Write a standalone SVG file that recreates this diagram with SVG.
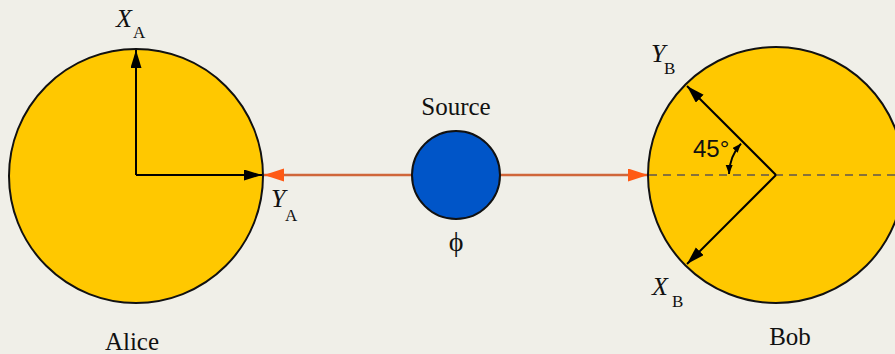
<svg xmlns="http://www.w3.org/2000/svg" width="895" height="354" viewBox="0 0 895 354">
<style>
.serif{font-family:"Liberation Serif","Times New Roman",serif;fill:#111}
.lbl{font-size:25px}
.it{font-style:italic;font-size:26px}
.sub{font-size:17px}
.disc{fill:#ffc800;stroke:#111;stroke-width:2}
.axis{stroke:#000;stroke-width:2;fill:none}
.beam{stroke:#d0663a;stroke-width:2.5;fill:none}
</style>
<defs>
<marker id="ah" markerUnits="userSpaceOnUse" markerWidth="20" markerHeight="12" refX="18" refY="5.5" orient="auto">
<path d="M0,0 L18,5.5 L0,11 z" fill="#000"/>
</marker>
<marker id="oh" markerUnits="userSpaceOnUse" markerWidth="22" markerHeight="14" refX="20" refY="6.5" orient="auto">
<path d="M0,0 L20,6.5 L0,13 z" fill="#ff5a14"/>
</marker>
<marker id="sh" markerUnits="userSpaceOnUse" markerWidth="10" markerHeight="8" refX="9" refY="3.5" orient="auto-start-reverse">
<path d="M0,0 L9,3.5 L0,7 z" fill="#000"/>
</marker>
</defs>
<rect x="0" y="0" width="895" height="354" fill="#f0efe8"/>

<g id="connectors">
<line class="beam" x1="412" y1="175" x2="264" y2="175" marker-end="url(#oh)"/>
<line class="beam" x1="500" y1="175" x2="648" y2="175" marker-end="url(#oh)"/>
</g>

<g id="alice">
<circle class="disc" cx="136" cy="176" r="127"/>
<line class="axis" x1="136" y1="175" x2="136" y2="50" marker-end="url(#ah)"/>
<line class="axis" x1="136" y1="175" x2="262" y2="175" marker-end="url(#ah)"/>
<text class="serif it" x="116" y="27">X</text>
<text class="serif sub" x="133" y="38">A</text>
<text class="serif it" x="271" y="207">Y</text>
<text class="serif sub" x="285" y="221">A</text>
<text class="serif lbl" x="132" y="350" text-anchor="middle">Alice</text>
</g>

<g id="source">
<circle cx="456" cy="175" r="44" fill="#0055c8" stroke="#111" stroke-width="2"/>
<text class="serif lbl" x="456" y="115" text-anchor="middle">Source</text>
<text class="serif" font-size="28" x="456" y="251" text-anchor="middle">ϕ</text>
</g>

<g id="bob">
<circle class="disc" cx="776" cy="175" r="128"/>
<line x1="649" y1="175" x2="895" y2="175" stroke="#87723a" stroke-width="2" stroke-dasharray="8,6"/>
<line class="axis" x1="776" y1="175" x2="687" y2="86" marker-end="url(#ah)"/>
<line class="axis" x1="776" y1="175" x2="687" y2="264" marker-end="url(#ah)"/>
<path class="axis" d="M741,143.6 A47,47 0 0 0 729,174" stroke-width="1.5" marker-start="url(#sh)" marker-end="url(#sh)"/>
<text x="693" y="157" font-family="Liberation Sans, Arial, sans-serif" font-size="24" fill="#111">45°</text>
<text class="serif it" x="651" y="62">Y</text>
<text class="serif sub" x="664" y="74">B</text>
<text class="serif it" x="652" y="295">X</text>
<text class="serif sub" x="672" y="307">B</text>
<text class="serif lbl" x="790" y="345" text-anchor="middle">Bob</text>
</g>
</svg>
